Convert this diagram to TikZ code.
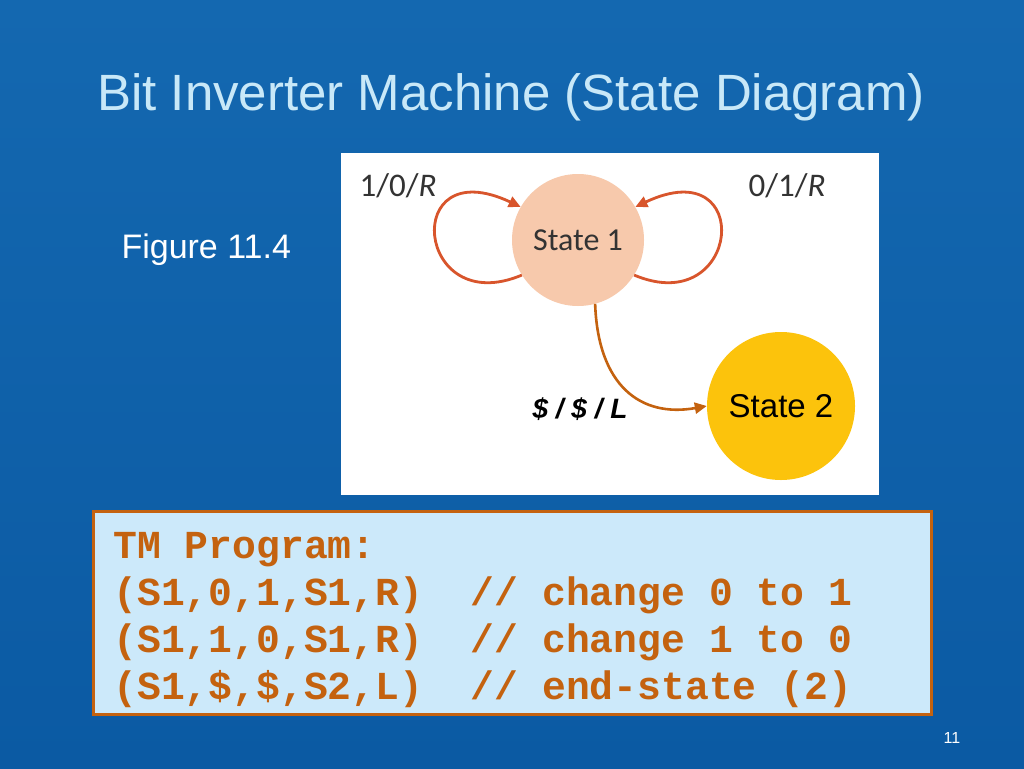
\documentclass[tikz,border=0pt]{standalone}
\usepackage{fontspec}
\setmainfont{Liberation Sans}
\setmonofont{Liberation Mono}
\setsansfont{Carlito}
\usetikzlibrary{positioning,arrows.meta}
\definecolor{slideblue}{HTML}{1468B0}
\definecolor{slidedark}{HTML}{0B5AA3}
\definecolor{titleblue}{HTML}{C8E8F8}
\definecolor{peach}{HTML}{F7C9AC}
\definecolor{gold}{HTML}{FCC30C}
\definecolor{loopred}{HTML}{D8552C}
\definecolor{rust}{HTML}{C4620F}
\definecolor{boxblue}{HTML}{CCE9FA}
\begin{document}
\begin{tikzpicture}[x=1pt,y=-1pt,>={Triangle[length=12pt,width=11pt]},
    state node/.style={circle,draw=none,font=\fontsize{33}{36}\selectfont},
    loop edge/.style={->,loopred,line width=2.8pt},
    rule label/.style={font=\sffamily\fontsize{33}{36}\selectfont,text=black!80}]
    \useasboundingbox (0,0) rectangle (1024,768);
    \shade[top color=slideblue,bottom color=slidedark] (0,0) rectangle (1024,768);
    \node[text=titleblue,font=\fontsize{51}{56}\selectfont] (title) at (511,97) {Bit Inverter Machine (State Diagram)};
    \node[text=white,font=\fontsize{34}{38}\selectfont,anchor=west] (fig) at (118,250) {Figure 11.4};
    \fill[white] (341,153) rectangle (879,495);

    \node[state node,fill=peach,minimum size=132pt,font=\sffamily\fontsize{32}{36}\selectfont,text=black!80] (s1) at (578,240) {State 1};
    \node[state node,fill=gold,minimum size=148pt] (s2) at (781,406) {State 2};
    \node[rule label] (l10) at (398,186) {1/0/\textit{R}};
    \node[rule label] (l01) at (787,186) {0/1/\textit{R}};
    \node[font=\fontsize{28}{32}\selectfont\bfseries\itshape] (l2) at (580,409) {\$ / \$ / L};

    \draw[loop edge] (s1.212) .. controls (415,320) and (400,150) .. (s1.150);
    \draw[loop edge] (s1.328) .. controls (741,320) and (756,150) .. (s1.30);
    \draw[->,rust,line width=2.6pt] (s1.285) .. controls (598,385) and (640,418) .. (s2.west);

    \node[draw=rust,line width=3pt,fill=boxblue,minimum width=838pt,minimum height=203pt] (prog) at (512,612.5) {};
    \node[anchor=north west,align=left,text=rust,font=\ttfamily\bfseries\fontsize{39.7}{47}\selectfont] (code) at (110,529)
      {TM Program:\\(S1,0,1,S1,R)~~//~change~0~to~1\\(S1,1,0,S1,R)~~//~change~1~to~0\\(S1,\$,\$,S2,L)~~//~end-state~(2)};
    \node[text=white,font=\fontsize{16}{18}\selectfont] (page) at (952,738) {11};
\end{tikzpicture}
\end{document}
